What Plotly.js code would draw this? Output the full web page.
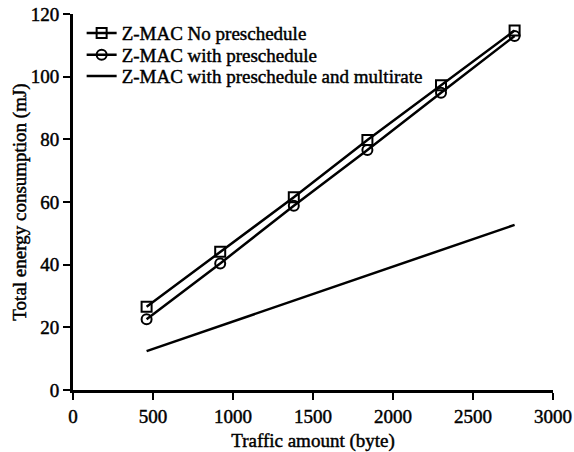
<!DOCTYPE html>
<html><head><meta charset="utf-8">
<script src="https://cdn.plot.ly/plotly-3.0.1.min.js"></script>
<style>body{margin:0;background:#fff}#c{width:574px;height:452px}
#c svg text{stroke:#000;stroke-width:0.45px}</style>
</head><body><div id="c"></div>
<script>
var traffic = [460, 920, 1380, 1840, 2300, 2760];
var noPre = [26.6, 44.1, 61.5, 79.8, 97.3, 114.7];
var withPre = [22.6, 40.4, 58.8, 76.6, 94.9, 113.0];
var withPreMulti = [12.4, 20.5, 28.5, 36.6, 44.6, 52.7];
var names = ["Z-MAC No preschedule", "Z-MAC with preschedule", "Z-MAC with preschedule and multirate"];
var xTicks = [0, 500, 1000, 1500, 2000, 2500, 3000];
var yTicks = [0, 20, 40, 60, 80, 100, 120];

var font = {family: "Liberation Serif, Times New Roman, serif", size: 19, color: "#000"};
var traces = [
  {x: traffic, y: noPre, name: names[0], mode: "lines+markers", legend: "legend",
   line: {color: "#000", width: 2.5},
   marker: {symbol: "square-open", size: 10, color: "#000", line: {width: 2}}},
  {x: traffic, y: withPre, name: names[1], mode: "lines+markers", legend: "legend2",
   line: {color: "#000", width: 2.5},
   marker: {symbol: "circle-open", size: 10, color: "#000", line: {width: 2}}},
  {x: traffic, y: withPreMulti, name: names[2], mode: "lines", legend: "legend3",
   line: {color: "#000", width: 2.5}}
];
function leg(y) {
  return {x: 0.018, y: y, xanchor: "left", yanchor: "middle", bgcolor: "rgba(0,0,0,0)",
    font: font, itemwidth: 30, borderwidth: 0};
}
var layout = {
  width: 574, height: 452,
  margin: {l: 73, r: 21, t: 14, b: 62},
  paper_bgcolor: "#fff", plot_bgcolor: "#fff",
  font: font,
  showlegend: true,
  legend: leg(0.949), legend2: leg(0.891), legend3: leg(0.835),
  xaxis: {range: [0, 3000], tickvals: xTicks, ticktext: xTicks.map(String), tickfont: font,
    showgrid: false, zeroline: false, showline: true, linecolor: "#000", linewidth: 3,
    ticks: "outside", ticklen: 7, tickwidth: 2, tickcolor: "#000",
    title: {text: "Traffic amount (byte)", font: font, standoff: 12}},
  yaxis: {range: [0, 120], tickvals: yTicks, ticktext: yTicks.map(String), tickfont: font,
    showgrid: false, zeroline: false, showline: true, linecolor: "#000", linewidth: 3,
    ticks: "outside", ticklen: 7, tickwidth: 2, tickcolor: "#000",
    title: {text: "Total energy consumption (mJ)", font: font, standoff: 0}}
};
Plotly.newPlot("c", traces, layout, {displayModeBar: false, staticPlot: true});
</script></body></html>
